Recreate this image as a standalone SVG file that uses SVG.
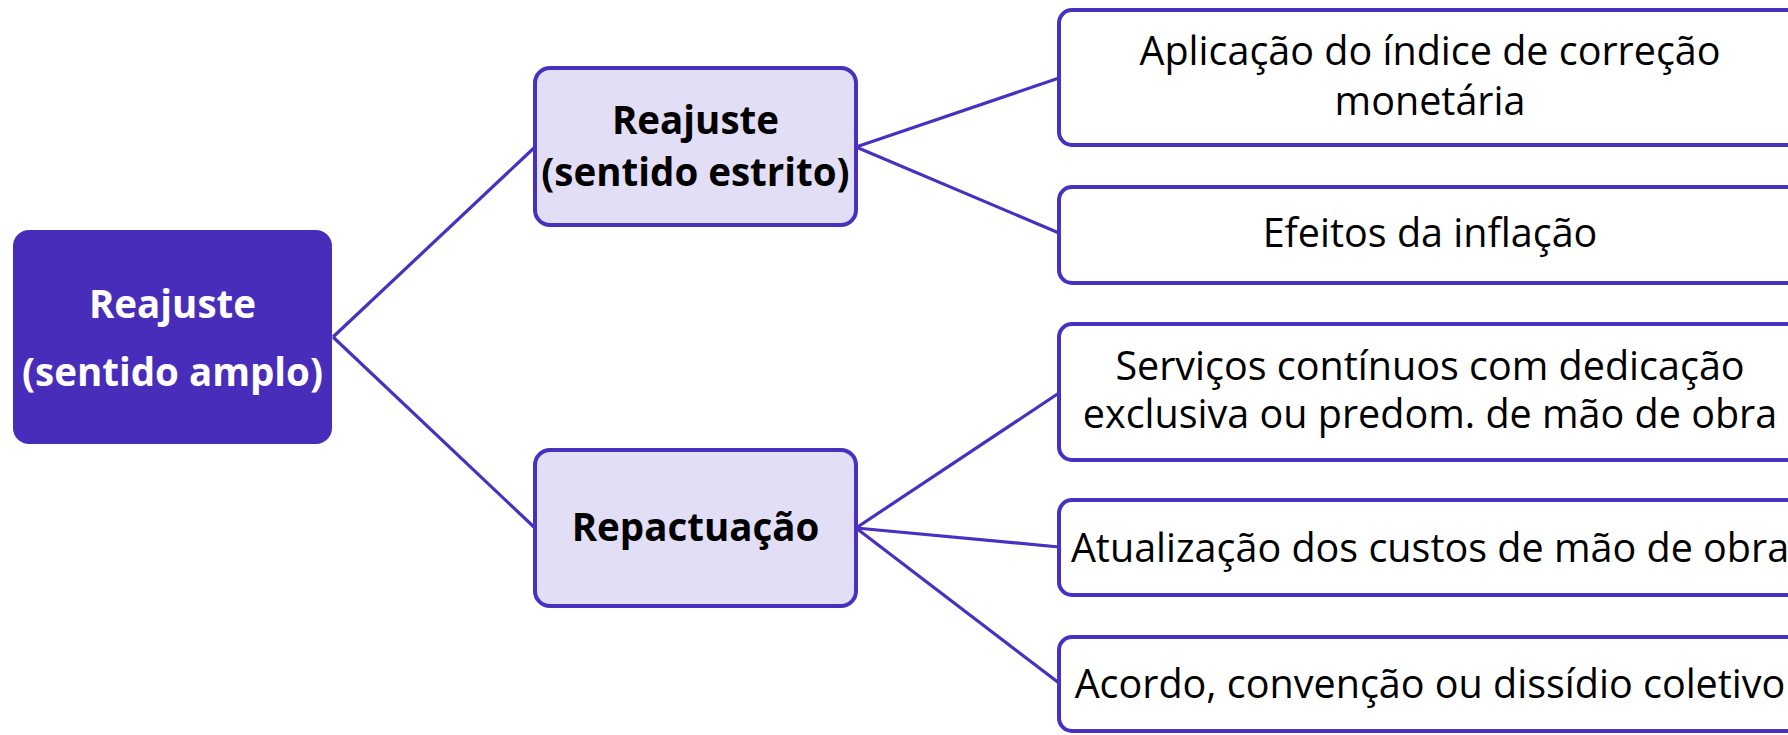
<svg xmlns="http://www.w3.org/2000/svg" width="1788" height="735" viewBox="0 0 1788 735">
<style>
.bg{fill:#ffffff}
.root{fill:#482DBA}
.mid{fill:#E2DEF6;stroke:#4A30C0;stroke-width:4}
.leaf{fill:#ffffff;stroke:#4A30C0;stroke-width:4}
.conn line{stroke:#4A30C0;stroke-width:3.2;fill:none}
.tb{font-family:"Open Sans","Liberation Sans",sans-serif;font-weight:bold;font-size:38.5px;text-anchor:middle}
.tr{font-family:"Open Sans","Liberation Sans",sans-serif;font-size:39.5px;text-anchor:middle;fill:#000}
</style>
<rect class="bg" x="0" y="0" width="1788" height="735"/>
<g id="connectors" class="conn">
<line x1="333" y1="337" x2="535" y2="147"/>
<line x1="333" y1="337" x2="535" y2="528"/>
<line x1="856" y1="147" x2="1059" y2="78"/>
<line x1="856" y1="147" x2="1059" y2="233"/>
<line x1="856" y1="528" x2="1059" y2="393"/>
<line x1="856" y1="528" x2="1059" y2="547"/>
<line x1="856" y1="528" x2="1059" y2="683"/>
</g>
<g id="root">
<rect class="root" x="13" y="230" width="319" height="214" rx="16"/>
<text class="tb" x="172.5" y="318" fill="#ffffff">Reajuste</text>
<text class="tb" x="172.5" y="386" fill="#ffffff">(sentido amplo)</text>
</g>
<g id="reajuste-estrito">
<rect class="mid" x="535" y="68" width="321" height="157" rx="15"/>
<text class="tb" x="695.5" y="134" fill="#000000">Reajuste</text>
<text class="tb" x="695.5" y="186" fill="#000000">(sentido estrito)</text>
</g>
<g id="repactuacao">
<rect class="mid" x="535" y="450" width="321" height="156" rx="15"/>
<text class="tb" x="695.5" y="541" fill="#000000">Repactuação</text>
</g>
<g id="leaf1">
<rect class="leaf" x="1059" y="10" width="800" height="135" rx="13"/>
<text class="tr" x="1430" y="65">Aplicação do índice de correção</text>
<text class="tr" x="1430" y="115">monetária</text>
</g>
<g id="leaf2">
<rect class="leaf" x="1059" y="187" width="800" height="96" rx="13"/>
<text class="tr" x="1430" y="247">Efeitos da inflação</text>
</g>
<g id="leaf3">
<rect class="leaf" x="1059" y="324" width="800" height="136" rx="13"/>
<text class="tr" x="1430" y="380">Serviços contínuos com dedicação</text>
<text class="tr" x="1430" y="428">exclusiva ou predom. de mão de obra</text>
</g>
<g id="leaf4">
<rect class="leaf" x="1059" y="500" width="800" height="95" rx="13"/>
<text class="tr" x="1430" y="562">Atualização dos custos de mão de obra</text>
</g>
<g id="leaf5">
<rect class="leaf" x="1059" y="637" width="800" height="94" rx="13"/>
<text class="tr" x="1430" y="698">Acordo, convenção ou dissídio coletivo</text>
</g>
</svg>
